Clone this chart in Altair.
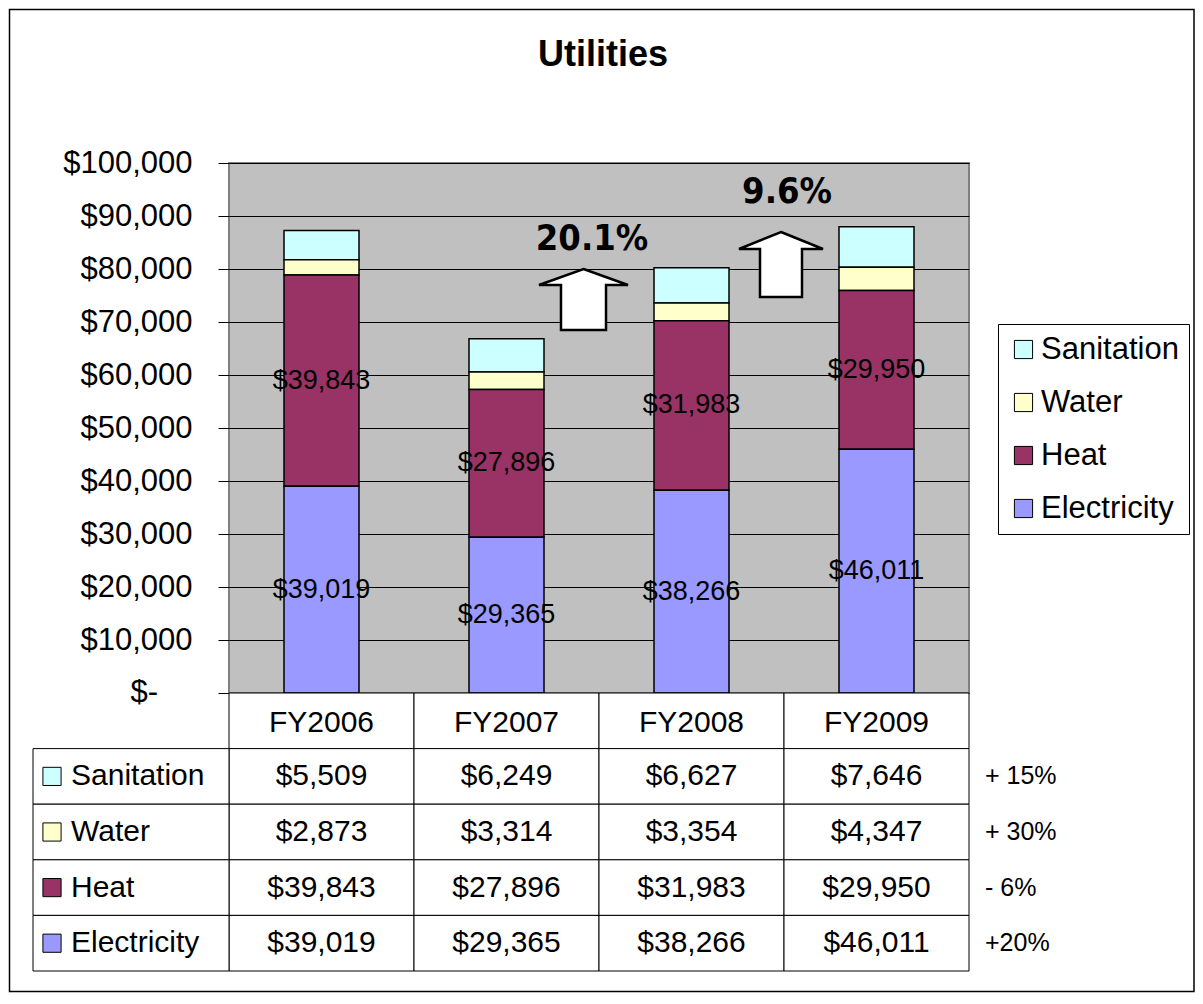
import altair as alt
import pandas as pd

# ---------------- data ----------------
years = ["FY2006", "FY2007", "FY2008", "FY2009"]
series = ["Sanitation", "Water", "Heat", "Electricity"]
sanitation = [5509, 6249, 6627, 7646]
water = [2873, 3314, 3354, 4347]
heat = [39843, 27896, 31983, 29950]
electricity = [39019, 29365, 38266, 46011]
colors = ["#CCFFFF", "#FFFFCC", "#993366", "#9999FF"]
changes = ["+ 15%", "+ 30%", "- 6%", "+20%"]
growth_labels = ["20.1%", "9.6%"]
y_ticks = list(range(0, 100001, 10000))
zero_label = "$-"

values_by_series = {
    "Sanitation": sanitation,
    "Water": water,
    "Heat": heat,
    "Electricity": electricity,
}
stack_rank = {"Electricity": 0, "Heat": 1, "Water": 2, "Sanitation": 3}

rows = []
for s in series:
    for yr, v in zip(years, values_by_series[s]):
        rows.append({"Year": yr, "Series": s, "Value": v, "rank": stack_rank[s]})
df = pd.DataFrame(rows)

df_rows = pd.DataFrame({"Series": series, "Change": changes, "Color": colors})
df_hdr = pd.DataFrame({"Year": years, "Row": ["hdr"] * len(years)})

FONT = "Liberation Sans"
NARROW = "DejaVu Sans Condensed, Liberation Sans Narrow, sans-serif"

# ---------------- scales ----------------
x_scale = alt.Scale(domain=years, paddingInner=0, paddingOuter=0)
x_enc = alt.X("Year:N", scale=x_scale, axis=None)
y_scale = alt.Scale(domain=[0, 100000], nice=False, zero=True)
row_scale = alt.Scale(type="band", domain=["hdr"] + series, range=[530, 808],
                      paddingInner=0, paddingOuter=0)
fill_scale = alt.Scale(domain=series, range=colors)

# ---------------- bar chart ----------------
stacked = (
    alt.Chart(df)
    .transform_stack(stack="Value", groupby=["Year"],
                     sort=[alt.SortField("rank", order="ascending")],
                     as_=["v0", "v1"])
    .transform_calculate(mid="(datum.v0 + datum.v1) / 2")
)

y_axis = alt.Axis(
    values=y_ticks, grid=True, gridColor="black", gridWidth=1,
    ticks=True, tickColor="black", tickSize=11, tickWidth=1,
    domain=False, labelFontSize=31, labelFont=FONT, labelColor="black",
    labelPadding=26, labelFlush=False, labelOverlap=False, labelBound=False,
    labelExpr="datum.value == 0 ? '' : '$' + format(datum.value, ',')",
    title=None,
)

bars = stacked.mark_bar(width=75, stroke="black", strokeWidth=1.5).encode(
    x=x_enc,
    y=alt.Y("v0:Q", scale=y_scale, axis=y_axis),
    y2="v1:Q",
    fill=alt.Fill(
        "Series:N", scale=fill_scale,
        legend=alt.Legend(
            orient="none", legendX=769, legendY=161, title=None,
            direction="vertical", labelFontSize=31, labelFont=FONT,
            labelColor="black", symbolType="square", symbolSize=330,
            symbolStrokeColor="black", symbolStrokeWidth=1,
            padding=10, rowPadding=21, labelOffset=2,
            strokeColor="black", fillColor="white", cornerRadius=0,
        ),
    ),
)

bar_labels = (
    stacked.transform_filter(alt.FieldOneOfPredicate(field="Series", oneOf=["Heat", "Electricity"]))
    .mark_text(fontSize=27, font=FONT, color="black", baseline="middle")
    .encode(
        x=x_enc,
        y=alt.Y("mid:Q", scale=y_scale, axis=None),
        text=alt.Text("Value:Q", format="$,.0f"),
    )
)

# zero tick label in accounting style ("$-"), offset left like the original
zero_src = pd.DataFrame({"v": [y_ticks[0]], "lbl": [zero_label]})
zero_text = alt.Chart(zero_src).mark_text(fontSize=31, font=FONT, color="black",
                                          baseline="middle", align="right").encode(
    x=alt.value(-71), y=alt.Y("v:Q", scale=y_scale, axis=None), text="lbl:N")

# ---------------- growth arrows ----------------
arrow1_path = "M0,-0.685L1,-0.326L0.506,-0.326L0.506,0.685L-0.506,0.685L-0.506,-0.326L-1,-0.326Z"
arrow2_path = "M0,-0.774L1,-0.369L0.5,-0.369L0.5,0.774L-0.5,0.774L-0.5,-0.369L-1,-0.369Z"
arr_src = pd.DataFrame({"label": growth_labels})

arrow1 = alt.Chart(arr_src).transform_filter(alt.datum.label == growth_labels[0]).mark_point(
    shape=arrow1_path, size=7921, filled=True, fill="white", stroke="black",
    strokeWidth=2.5, opacity=1,
).encode(x=alt.value(354.5), y=alt.value(136.5))
arrow2 = alt.Chart(arr_src).transform_filter(alt.datum.label == growth_labels[1]).mark_point(
    shape=arrow2_path, size=7056, filled=True, fill="white", stroke="black",
    strokeWidth=2.5, opacity=1,
).encode(x=alt.value(552), y=alt.value(101.5))

growth1 = alt.Chart(arr_src).transform_filter(alt.datum.label == growth_labels[0]).mark_text(
    font=NARROW, fontWeight="bold", fontSize=36, color="black",
    baseline="middle", align="center",
).encode(x=alt.value(363), y=alt.value(76), text="label:N")
growth2 = alt.Chart(arr_src).transform_filter(alt.datum.label == growth_labels[1]).mark_text(
    font=NARROW, fontWeight="bold", fontSize=36, color="black",
    baseline="middle", align="center",
).encode(x=alt.value(558), y=alt.value(29), text="label:N")

# ---------------- data table ----------------
def row_y(f):
    return alt.Y(f, scale=row_scale, axis=None)

hdr_cells = alt.Chart(df_hdr).mark_rect(fill="white", stroke="black", strokeWidth=1).encode(
    x=x_enc, y=row_y("Row:N"))
hdr_text = alt.Chart(df_hdr).mark_text(fontSize=30, font=FONT, color="black", baseline="middle",
                                       dy=2).encode(
    x=x_enc, y=row_y("Row:N"), text="Year:N")

cells = alt.Chart(df).mark_rect(fill="white", stroke="black", strokeWidth=1).encode(
    x=x_enc, y=row_y("Series:N"))
cell_text = alt.Chart(df).mark_text(fontSize=30, font=FONT, color="black", baseline="middle").encode(
    x=x_enc, y=row_y("Series:N"), text=alt.Text("Value:Q", format="$,.0f"))

left_cells = alt.Chart(df_rows).mark_rect(fill="white", stroke="black", strokeWidth=1).encode(
    x=alt.value(-196), x2=alt.value(0), y=row_y("Series:N"))
left_keys = alt.Chart(df_rows).mark_point(shape="square", size=330, filled=True, opacity=1,
                                          stroke="black", strokeWidth=1).encode(
    x=alt.value(-177), y=row_y("Series:N"), fill=alt.Fill("Color:N", scale=None))
left_text = alt.Chart(df_rows).mark_text(fontSize=30, font=FONT, color="black", baseline="middle",
                                         align="left").encode(
    x=alt.value(-158), y=row_y("Series:N"), text="Series:N")
change_text = alt.Chart(df_rows).mark_text(fontSize=25, font=FONT, color="black", baseline="middle",
                                           align="left").encode(
    x=alt.value(756), y=row_y("Series:N"), text="Change:N")

# ---------------- title & frame ----------------
title_src = pd.DataFrame({"t": ["Utilities"]})
title = alt.Chart(title_src).mark_text(fontSize=36, font=FONT, fontWeight="bold", color="black",
                                       baseline="middle", align="center").encode(
    x=alt.value(374), y=alt.value(-108), text="t:N")
frame = alt.Chart(title_src).mark_rect(filled=False, stroke="black", strokeWidth=1.5).encode(
    x=alt.value(-219.5), x2=alt.value(965), y=alt.value(-153.5), y2=alt.value(828.5))

chart = (
    alt.layer(bars, bar_labels, zero_text, arrow1, arrow2, growth1, growth2,
              hdr_cells, hdr_text, cells, cell_text, left_cells, left_keys, left_text,
              change_text, title, frame)
    .resolve_scale(y="independent")
    .properties(
        width=740, height=530,
        autosize=alt.AutoSizeParams(type="none"),
        padding={"left": 221, "top": 155, "right": 226, "bottom": 300},
        background="white",
    )
    .configure(font=FONT)
    .configure_view(fill="#C0C0C0", stroke="#808080", strokeWidth=2)
)

chart.save("out.html", embed_options={"renderer": "svg", "actions": False})
